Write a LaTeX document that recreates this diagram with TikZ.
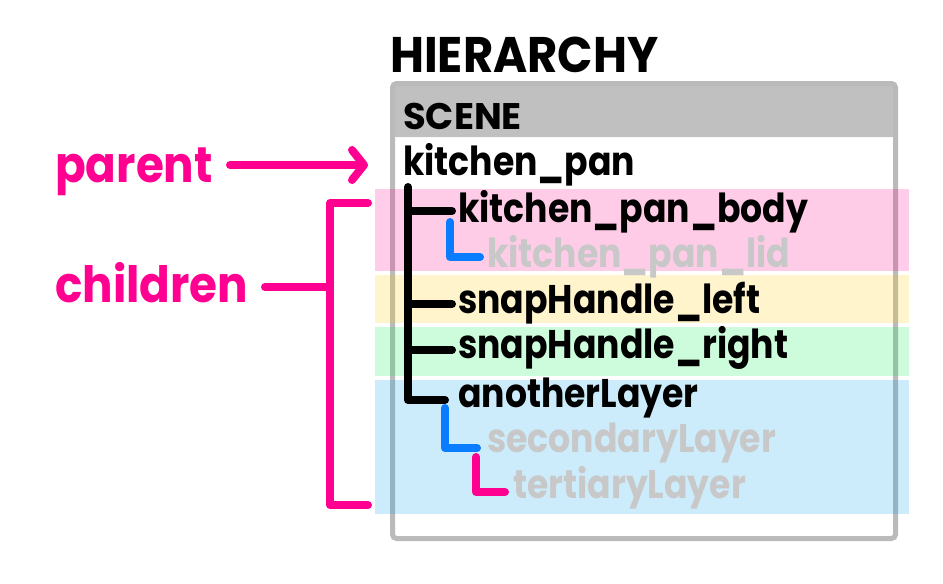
\documentclass[tikz,border=0pt]{standalone}
\usepackage{fontspec}
\setmainfont{Poppins}
\newfontfamily\itemfont{Poppins}[FakeStretch=0.866]
\newfontfamily\titlefont{Poppins}[FakeStretch=0.93]
\newfontfamily\sidefont{Poppins}[FakeStretch=0.905]
\usetikzlibrary{arrows.meta}
\definecolor{hot}{RGB}{255,0,144}
\definecolor{treeblue}{RGB}{10,124,255}
\definecolor{dimtext}{RGB}{200,200,200}
\definecolor{headgray}{RGB}{192,192,192}
\definecolor{framegray}{RGB}{186,186,186}
\definecolor{bandpink}{RGB}{255,0,144}
\definecolor{bandyellow}{RGB}{255,204,0}
\definecolor{bandgreen}{RGB}{0,240,80}
\definecolor{bandblue}{RGB}{0,160,240}
\tikzset{
  item/.style={anchor=base west, inner sep=0pt, font=\itemfont\bfseries\fontsize{40}{40}\selectfont},
  dimitem/.style={item, text=dimtext},
  side/.style={anchor=base west, inner sep=0pt, text=hot, font=\sidefont\bfseries\fontsize{50}{50}\selectfont},
  band/.style={fill opacity=0.2},
  treeline/.style={line width=8pt, line cap=round, line join=round},
  hotline/.style={hot, line width=8pt, line cap=round, line join=round},
}
\begin{document}
\begin{tikzpicture}[x=1pt,y=-1pt]
\useasboundingbox (0,0) rectangle (943,584);
% panel
\fill[white] (392.5,83.5) rectangle (895.5,538.5);
\fill[headgray, rounded corners=4pt] (392.5,83.5) rectangle (895.5,137);
\fill[headgray] (392.5,120) rectangle (895.5,137);
\draw[framegray, line width=5pt, rounded corners=4pt] (392.5,83.5) rectangle (895.5,538.5);
% bands
\fill[bandpink, band] (375,189) rectangle (909,271);
\fill[bandyellow, band] (375,275) rectangle (909,323);
\fill[bandgreen, band] (375,327) rectangle (909,376);
\fill[bandblue, band] (375,380) rectangle (909,514);
% titles
\node[anchor=base west, inner sep=0pt, font=\titlefont\bfseries\fontsize{50}{50}\selectfont] (hier) at (390,72) {HIERARCHY};
\node[anchor=base west, inner sep=0pt, font=\bfseries\fontsize{37}{37}\selectfont] (scene) at (403,129) {SCENE};
% items
\node[item] (kp) at (403,175) {kitchen\_pan};
\node[item] (body) at (458,222) {kitchen\_pan\_body};
\node[dimitem] (lid) at (487,267) {kitchen\_pan\_lid};
\node[item] (shl) at (458,313) {snapHandle\_left};
\node[item] (shr) at (458,358) {snapHandle\_right};
\node[item] (al) at (458,407) {anotherLayer};
\node[dimitem] (sl) at (487,452) {secondaryLayer};
\node[dimitem] (tl) at (513,498) {tertiaryLayer};
% tree
\coordinate (trunktop) at (408,187);
\coordinate (trunkbot) at (408,400);
\draw[treeline] (trunktop) -- (trunkbot) -- (445,400);
\draw[treeline] (408,211) -- (452,211);
\draw[treeline] (408,304) -- (452,304);
\draw[treeline] (408,350) -- (452,350);
\draw[treeline, treeblue] (450,222) -- (450,257) -- (480,257);
\draw[treeline, treeblue] (445,408) -- (445,448) -- (477,448);
\draw[treeline, hot] (476,457) -- (476,492) -- (505,492);
% left labels
\node[side] (parent) at (55,182) {parent};
\node[side] (children) at (55,302) {children};
\coordinate (arrowstart) at (230,165);
\coordinate (arrowend) at (368,165);
\draw[hotline, -{Straight Barb[length=12pt, width=30pt, round]}] (arrowstart) -- (arrowend);
\coordinate (brtop) at (368,203);
\coordinate (brbot) at (368,505);
\coordinate (tick) at (265,287);
\draw[hotline] (brtop) -- (330,203) -- (330,505) -- (brbot);
\draw[hotline] (tick) -- (330,287);
\end{tikzpicture}
\end{document}
